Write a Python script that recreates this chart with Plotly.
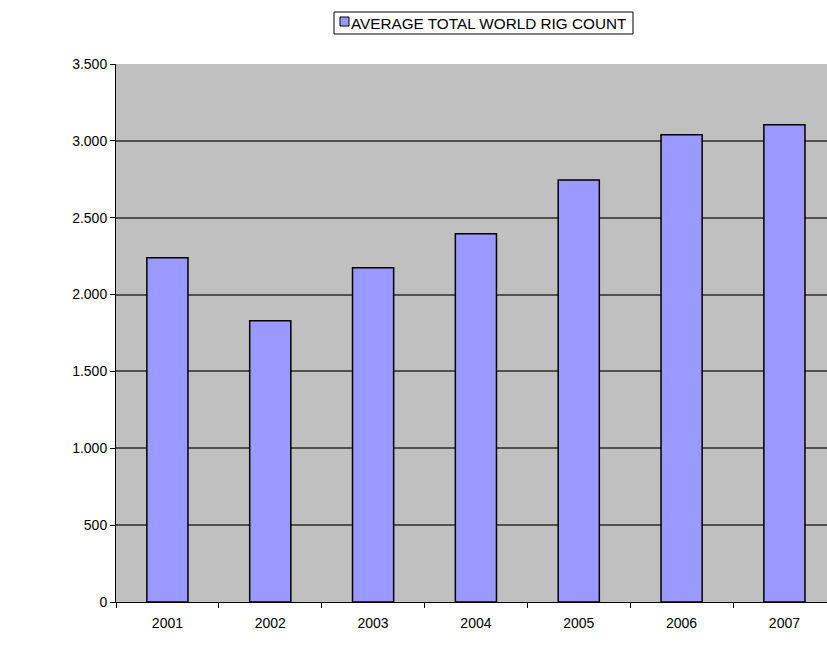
import plotly.graph_objects as go

# Average total world rig count per year
years = ["2001", "2002", "2003", "2004", "2005", "2006", "2007"]
rig_count = [2240, 1830, 2175, 2395, 2745, 3040, 3105]
series_name = "AVERAGE TOTAL WORLD RIG COUNT"

y_ticks = [0, 500, 1000, 1500, 2000, 2500, 3000, 3500]

BAR_COLOR = "#9999FF"

# plot area in pixels: left 116, bottom 602, width 711, height 538
PLOT_L, PLOT_B, PLOT_W, PLOT_H = 116, 602, 711, 538


def px_x(px):
    return (px - PLOT_L) / PLOT_W


def px_y(py):
    return (PLOT_B - py) / PLOT_H


fig = go.Figure()
fig.add_trace(go.Bar(
    x=years,
    y=rig_count,
    name=series_name,
    width=0.4,
    marker=dict(color=BAR_COLOR, line=dict(color="#000000", width=1.5)),
    showlegend=False,
))

# legend box drawn above the plot
fig.add_shape(type="rect", xref="paper", yref="paper",
              x0=px_x(334), x1=px_x(633), y0=px_y(34), y1=px_y(12),
              line=dict(color="#000000", width=1), fillcolor="#FFFFFF", layer="above")
fig.add_shape(type="rect", xref="paper", yref="paper",
              x0=px_x(340), x1=px_x(349), y0=px_y(26), y1=px_y(17),
              line=dict(color="#000000", width=1), fillcolor=BAR_COLOR, layer="above")
fig.add_annotation(xref="paper", yref="paper", x=px_x(349), y=px_y(23),
                   xanchor="left", yanchor="middle", showarrow=False,
                   text=series_name, font=dict(size=15.3, color="#000000"))

fig.update_layout(
    width=827,
    height=660,
    margin=dict(l=116, r=0, t=64, b=58),
    paper_bgcolor="#FFFFFF",
    plot_bgcolor="#C0C0C0",
    separators=",.",
    font=dict(family="Liberation Sans, Arial, sans-serif", size=14, color="#000000"),
    showlegend=False,
    bargap=0.6,
)

fig.update_xaxes(
    type="category",
    range=[-0.5, 6.414],
    showline=True, linecolor="#000000", linewidth=1,
    ticks="outside", ticklen=5, tickcolor="#000000",
    tickson="boundaries",
    ticklabelstandoff=8,
    showgrid=False,
    tickfont=dict(size=14),
)
fig.update_yaxes(
    range=[0, 3500],
    tickvals=y_ticks,
    tickformat=",d",
    showline=True, linecolor="#000000", linewidth=1,
    ticks="outside", ticklen=5, tickcolor="#000000",
    showgrid=True, gridcolor="#505050", gridwidth=1.5,
    zeroline=False,
    tickfont=dict(size=14),
)

fig.write_html("out.html")
